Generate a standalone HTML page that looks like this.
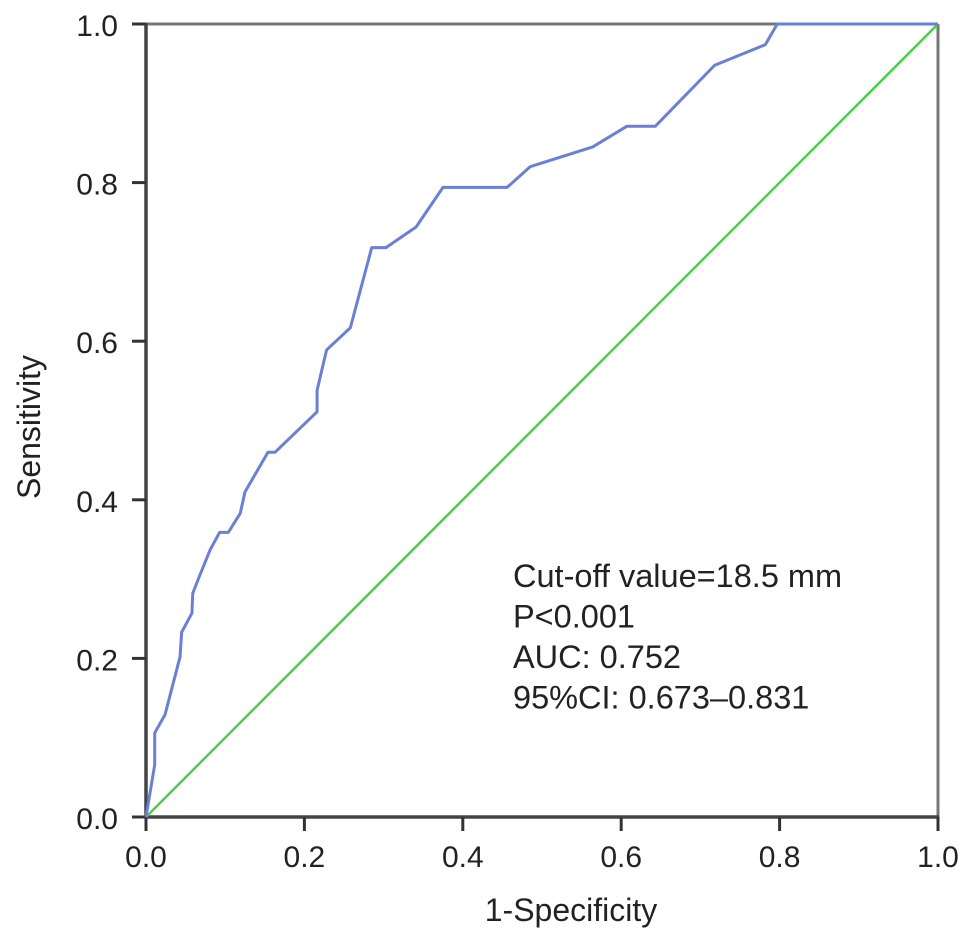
<!DOCTYPE html>
<html><head><meta charset="utf-8"><style>
html,body{margin:0;padding:0;background:#fff;}
svg{display:block;font-family:"Liberation Sans",Arial,sans-serif;}
</style></head><body>
<svg id="chart" width="969" height="942" viewBox="0 0 969 942" xmlns="http://www.w3.org/2000/svg"></svg>
<script>
const fprValues = [0,0.011,0.011,0.024,0.043,0.045,0.058,0.059,0.068,0.081,0.093,0.104,0.119,0.125,0.154,0.163,0.216,0.216,0.228,0.258,0.285,0.303,0.341,0.375,0.456,0.485,0.564,0.607,0.643,0.718,0.782,0.797,1.0];
const tprValues = [0,0.066,0.106,0.129,0.202,0.233,0.257,0.282,0.305,0.337,0.359,0.359,0.383,0.410,0.460,0.460,0.511,0.538,0.589,0.617,0.718,0.718,0.744,0.794,0.794,0.820,0.845,0.871,0.871,0.948,0.974,1.0,1.0];
const refX = [0,1];
const refY = [0,1];
const tickValues = [0,0.2,0.4,0.6,0.8,1.0];
const tickLabels = ["0.0","0.2","0.4","0.6","0.8","1.0"];
const annotations = ["Cut-off value=18.5 mm","P<0.001","AUC: 0.752","95%CI: 0.673\u20130.831"];

const X0=146,X1=938,Y0=817,Y1=24;
const sx=v=>X0+v*(X1-X0);
const sy=v=>Y0-v*(Y0-Y1);
const NS="http://www.w3.org/2000/svg";
const svg=document.getElementById('chart');
function mk(tag,attrs){const e=document.createElementNS(NS,tag);for(const k in attrs)e.setAttribute(k,attrs[k]);svg.appendChild(e);return e;}

let f=mk('line',{x1:X0,y1:Y1,x2:X1,y2:Y1,stroke:'#777','stroke-width':3});


f=mk('line',{x1:X1,y1:Y1,x2:X1,y2:Y0,stroke:'#777','stroke-width':3});


f=mk('line',{x1:X0,y1:Y1-1,x2:X0,y2:Y0+1,stroke:'#444','stroke-width':3.5});


f=mk('line',{x1:X0-1,y1:Y0,x2:X1+1,y2:Y0,stroke:'#444','stroke-width':3.5});



tickValues.forEach((v,i)=>{
  let t=mk('line',{x1:X0-14,y1:sy(v),x2:X0,y2:sy(v),stroke:'#333','stroke-width':3});
  
  
  let l=mk('text',{x:X0-28,y:sy(v)+12,'text-anchor':'end','font-size':30,fill:'#222'});
  l.textContent=tickLabels[i];
  
  
  t=mk('line',{x1:sx(v),y1:Y0,x2:sx(v),y2:Y0+14,stroke:'#333','stroke-width':3});
  
  
  l=mk('text',{x:sx(v),y:Y0+50,'text-anchor':'middle','font-size':30,fill:'#222'});
  l.textContent=tickLabels[i];
  
  
});

const ref=mk('line',{x1:sx(refX[0]),y1:sy(refY[0]),x2:sx(refX[1]),y2:sy(refY[1]),stroke:'#4ccd4c','stroke-width':2.5});



const pts=fprValues.map((v,i)=>sx(v)+','+sy(tprValues[i])).join(' ');
const roc=mk('polyline',{points:pts,fill:'none',stroke:'#6b7fd6','stroke-width':3,'stroke-linejoin':'round'});



annotations.forEach((s,i)=>{
  const t=mk('text',{x:513,y:587+i*40.5,'font-size':32.5,fill:'#222'});
  t.textContent=s;
  
  
});

let xt=mk('text',{x:571,y:921,'text-anchor':'middle','font-size':32,fill:'#222'});
xt.textContent='1-Specificity';


let yt=mk('text',{x:0,y:0,'text-anchor':'middle','font-size':32,fill:'#222',transform:'translate(40,427) rotate(-90)'});
yt.textContent='Sensitivity';


</script>
</body></html>
